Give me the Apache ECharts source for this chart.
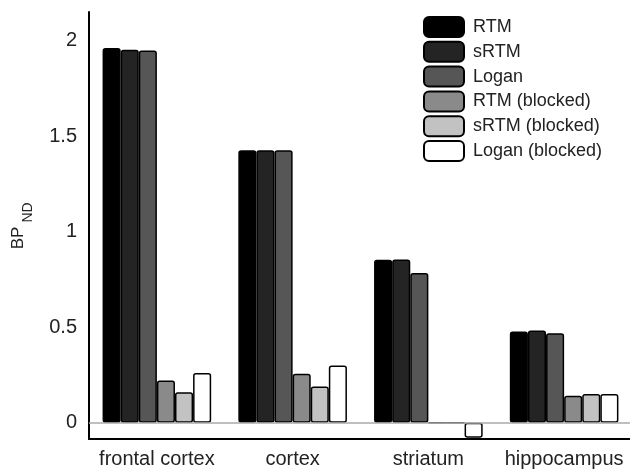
<!DOCTYPE html>
<html>
<head>
<meta charset="utf-8">
<script src="https://cdn.jsdelivr.net/npm/echarts@6/dist/echarts.min.js"></script>
<style>html,body{margin:0;padding:0;background:#fff}#c{width:630px;height:472px}</style>
</head>
<body>
<div id="c"></div>
<script>
const categories = ['frontal cortex', 'cortex', 'striatum', 'hippocampus'];
const seriesNames = ['RTM', 'sRTM', 'Logan', 'RTM (blocked)', 'sRTM (blocked)', 'Logan (blocked)'];
const rtm = [1.962, 1.426, 0.853, 0.478];
const srtm = [1.953, 1.426, 0.855, 0.483];
const logan = [1.949, 1.426, 0.784, 0.469];
const rtmBlocked = [0.221, 0.257, 0.0, 0.141];
const srtmBlocked = [0.160, 0.190, 0.0, 0.150];
const loganBlocked = [0.260, 0.300, -0.078, 0.150];
const seriesValues = [rtm, srtm, logan, rtmBlocked, srtmBlocked, loganBlocked];
const seriesColors = ['#000000', '#242424', '#565656', '#8a8a8a', '#c2c2c2', '#ffffff'];
const yTitleMain = 'BP', yTitleSub = 'ND';
const yMin = -0.085, yMax = 2.15;
const FONT = 'Liberation Sans, Arial, sans-serif';

const chart = echarts.init(document.getElementById('c'));
const series = seriesNames.map((name, i) => ({
  name: name,
  type: 'bar',
  data: seriesValues[i],
  barGap: '0%',
  barCategoryGap: '20%',
  itemStyle: { color: seriesColors[i], borderColor: '#000', borderWidth: 1.5, borderRadius: 2 },
  emphasis: { disabled: true },
  markLine: i === 0 ? {
    silent: true, symbol: ['none', 'none'], label: { show: false },
    lineStyle: { color: '#aaaaaa', width: 1.5, type: 'solid' },
    data: [{ yAxis: 0 }]
  } : undefined,
  z: 3
}));

chart.setOption({
  animation: false,
  backgroundColor: '#fff',
  grid: { left: 89, top: 12, width: 543, bottom: 33, containLabel: false, outerBoundsMode: 'none' },
  legend: {
    orient: 'vertical', left: 423, top: 16, padding: 0,
    itemWidth: 40, itemHeight: 20, itemGap: 2.8,
    icon: 'roundRect',
    data: seriesNames,
    itemStyle: { borderColor: '#000', borderWidth: 2 },
    textStyle: { fontFamily: FONT, fontSize: 18, lineHeight: 20, color: '#222', padding: [0, 0, 0, 4] }
  },
  graphic: [
    { type: 'text', x: 18.5, y: 238, rotation: Math.PI / 2, silent: true,
      style: { text: yTitleMain, font: '17px ' + FONT, fill: '#222', align: 'center', verticalAlign: 'middle' } },
    { type: 'text', x: 28, y: 212.5, rotation: Math.PI / 2, silent: true,
      style: { text: yTitleSub, font: '14px ' + FONT, fill: '#222', align: 'center', verticalAlign: 'middle' } }
  ],
  xAxis: {
    type: 'category', data: categories,
    axisLine: { onZero: false, lineStyle: { color: '#000', width: 2 } },
    axisTick: { show: false },
    axisLabel: { interval: 0, fontFamily: FONT, fontSize: 20, color: '#222', margin: 10, hideOverlap: false }
  },
  yAxis: {
    type: 'value', min: yMin, max: yMax,
    axisLine: { show: true, lineStyle: { color: '#000', width: 2 } },
    axisTick: { show: false },
    splitLine: { show: false },
    axisLabel: { fontFamily: FONT, fontSize: 20, color: '#222', margin: 12,
      showMinLabel: false, showMaxLabel: false }
  },
  series: series
});
</script>
</body>
</html>
